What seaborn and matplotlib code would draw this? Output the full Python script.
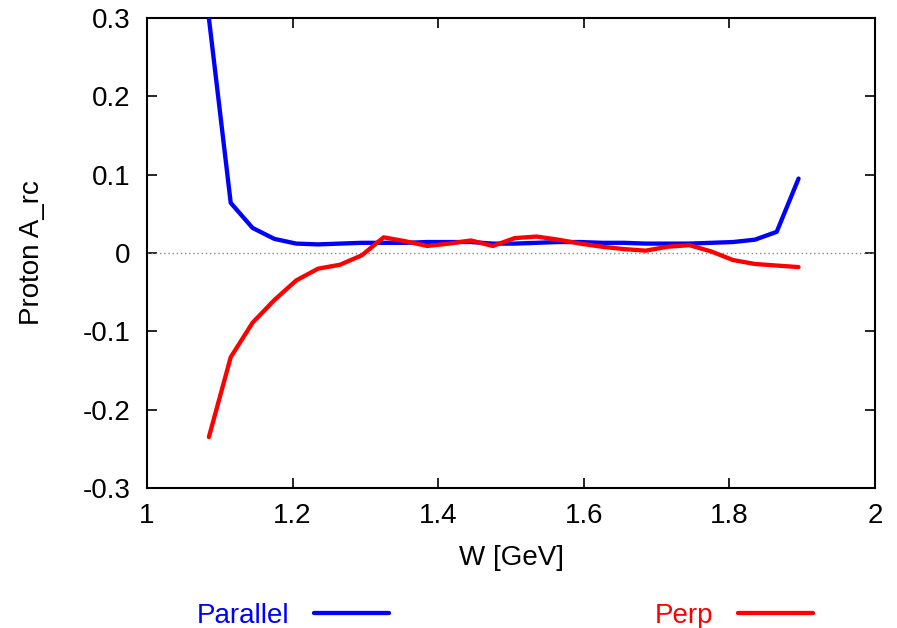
import matplotlib

matplotlib.use("Agg")
import matplotlib.pyplot as plt
import pandas as pd
import seaborn as sns
from matplotlib.lines import Line2D

# W grid (GeV) and the two asymmetry curves
w_gev = [1.085, 1.115, 1.145, 1.175, 1.205, 1.235, 1.265, 1.295, 1.325, 1.355,
         1.385, 1.415, 1.445, 1.475, 1.505, 1.535, 1.565, 1.595, 1.625, 1.655,
         1.685, 1.715, 1.745, 1.775, 1.805, 1.835, 1.865, 1.895]
parallel = [0.300, 0.064, 0.032, 0.018, 0.012, 0.011, 0.012, 0.013, 0.013, 0.013,
            0.014, 0.014, 0.014, 0.012, 0.012, 0.013, 0.014, 0.014, 0.013, 0.013,
            0.012, 0.012, 0.012, 0.013, 0.014, 0.017, 0.027, 0.095]
perp = [-0.235, -0.133, -0.089, -0.060, -0.035, -0.020, -0.015, -0.003, 0.020, 0.015,
        0.009, 0.012, 0.016, 0.009, 0.019, 0.021, 0.017, 0.012, 0.008, 0.005,
        0.003, 0.008, 0.010, 0.002, -0.009, -0.014, -0.016, -0.018]

x_ticks = [1.0, 1.2, 1.4, 1.6, 1.8, 2.0]
x_tick_labels = ["1", "1.2", "1.4", "1.6", "1.8", "2"]
y_ticks = [-0.3, -0.2, -0.1, 0.0, 0.1, 0.2, 0.3]
y_tick_labels = ["-0.3", "-0.2", "-0.1", "0", "0.1", "0.2", "0.3"]

series_names = ["Parallel", "Perp"]
series_colors = {"Parallel": "#0000ff", "Perp": "#ff0000"}


def build_frame() -> pd.DataFrame:
    frames = []
    for name, values in zip(series_names, [parallel, perp]):
        frames.append(pd.DataFrame({"W": w_gev, "asym": values, "series": name}))
    return pd.concat(frames, ignore_index=True)


def main() -> None:
    sns.set_theme(style="ticks")
    plt.rcParams["font.family"] = ["Liberation Sans", "DejaVu Sans"]
    plt.rcParams["axes.unicode_minus"] = False

    frame = build_frame()
    fig = plt.figure(figsize=(8.97, 6.28), dpi=100)
    ax = fig.add_axes([147 / 897, 1 - 488 / 628, 728 / 897, 470 / 628])

    ax.axhline(0, color="#888888", lw=1.0, ls=(0, (1, 2)), zorder=1)
    sns.lineplot(data=frame, x="W", y="asym", hue="series", palette=series_colors,
                 linewidth=3.1, ax=ax, legend=False, zorder=3)

    ax.set_xlim(1, 2)
    ax.set_ylim(-0.3, 0.3)
    ax.set_xticks(x_ticks, x_tick_labels)
    ax.set_yticks(y_ticks, y_tick_labels)
    ax.tick_params(direction="in", length=7, width=1.2, top=True, right=True,
                   labelsize=20, colors="black")
    ax.tick_params(axis="x", pad=11)
    ax.tick_params(axis="y", pad=12)
    for spine in ax.spines.values():
        spine.set_visible(True)
        spine.set_linewidth(1.5)
        spine.set_color("black")

    ax.set_xlabel("W [GeV]", fontsize=20, color="black")
    ax.set_ylabel("Proton A_rc", fontsize=20, color="black")
    ax.xaxis.set_label_coords(0.5, -0.122)
    ax.yaxis.set_label_coords(-0.14, 0.5)

    handles = [Line2D([], [], color=series_colors[n], lw=3.1) for n in series_names]
    fig.legend(handles, series_names, loc="center left",
               bbox_to_anchor=(197 / 897, 1 - 616 / 628), ncol=2, frameon=False,
               markerfirst=False, fontsize=20, handlelength=2.7, handletextpad=0.86,
               columnspacing=9.6, borderpad=0, borderaxespad=0,
               labelcolor="linecolor")

    fig.savefig("out.png", dpi=100)
    plt.close(fig)


if __name__ == "__main__":
    main()
